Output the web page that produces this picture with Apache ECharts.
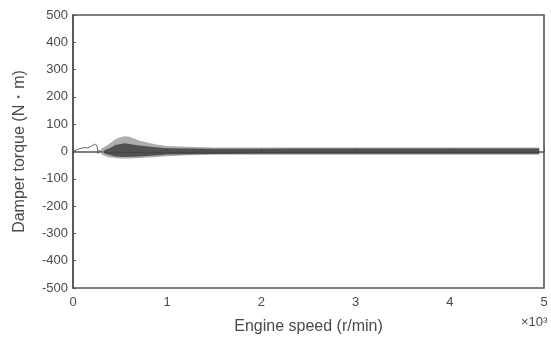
<!DOCTYPE html>
<html><head><meta charset="utf-8">
<script src="https://cdn.jsdelivr.net/npm/echarts@6/dist/echarts.min.js"></script>
<style>html,body{margin:0;padding:0;background:#fff}#c{width:551px;height:340px}</style>
</head><body><div id="c"></div>
<script>
// x in units of 10^3 r/min, y in N·m
const xTicks = [0, 1, 2, 3, 4, 5];
const yTicks = [-500, -400, -300, -200, -100, 0, 100, 200, 300, 400, 500];
const startX = [0, 0.05, 0.11, 0.16, 0.2, 0.23, 0.255, 0.265, 0.275, 0.29, 0.31];
const startY = [0, 8, 14, 13, 21, 27, 21, -8, 4, 2, 0];
const envX = [0.3, 0.35, 0.4, 0.45, 0.5, 0.55, 0.6, 0.65, 0.7, 0.8, 0.9, 1.0, 1.2, 1.5, 2.0, 3.0, 4.0, 4.95];
const envUpper = [10, 20, 32, 45, 52, 56, 54, 48, 40, 32, 25, 20, 17, 15, 15, 15, 15, 15];
const envLower = [-10, -18, -22, -24, -26, -26, -26, -25, -24, -22, -20, -17, -14, -12, -12, -12, -12, -12];
const coreX = [0.33, 0.4, 0.45, 0.55, 0.7, 0.9, 1.0, 1.5, 2.0, 2.3, 3.0, 4.0, 4.95];
const coreUpper = [5, 14, 24, 30, 22, 15, 12, 10, 10, 11, 11, 11, 11];
const coreLower = [-6, -14, -18, -20, -18, -14, -11, -9, -8, -8, -8, -8, -8];

const zip = (xs, ys) => xs.map((x, i) => [x, ys[i]]);
const chart = echarts.init(document.getElementById('c'));
const txt = {color: '#4a4a4a', fontFamily: 'Liberation Sans, Arial, sans-serif'};
chart.setOption({
  animation: false,
  grid: {left: 73, right: 7, top: 15, bottom: 51, show: true, borderColor: '#555', borderWidth: 1.6, backgroundColor: 'transparent'},
  xAxis: {
    type: 'value', min: xTicks[0], max: xTicks[xTicks.length - 1], interval: 1,
    name: 'Engine speed (r/min)', nameLocation: 'middle', nameGap: 31,
    nameTextStyle: Object.assign({fontSize: 16}, txt),
    axisLine: {show: true, lineStyle: {color: '#555', width: 1.6}},
    axisTick: {show: true, inside: true, length: 3, lineStyle: {color: '#555'}},
    axisLabel: Object.assign({fontSize: 13, margin: 8}, txt),
    splitLine: {show: false}
  },
  yAxis: {
    type: 'value', min: yTicks[0], max: yTicks[yTicks.length - 1], interval: 100,
    name: 'Damper torque (N・m)', nameLocation: 'middle', nameGap: 45,
    nameTextStyle: Object.assign({fontSize: 16}, txt),
    axisLine: {show: true, lineStyle: {color: '#555', width: 1.6}},
    axisTick: {show: true, inside: true, length: 3, lineStyle: {color: '#555'}},
    axisLabel: Object.assign({fontSize: 13, margin: 5}, txt),
    splitLine: {show: false}
  },
  graphic: [{type: 'text', left: 521, top: 316, style: {text: '×10³', fontSize: 13, fill: '#4a4a4a', fontFamily: txt.fontFamily}}],
  series: [
    {type: 'line', data: zip(envX, envUpper), showSymbol: false, lineStyle: {width: 0}, areaStyle: {color: '#8a8a8a'}, z: 1},
    {type: 'line', data: zip(envX, envLower), showSymbol: false, lineStyle: {width: 0}, areaStyle: {color: '#8a8a8a'}, z: 1},
    {type: 'line', data: zip(coreX, coreUpper), showSymbol: false, lineStyle: {width: 0}, areaStyle: {color: '#2a2a2a'}, z: 2},
    {type: 'line', data: zip(coreX, coreLower), showSymbol: false, lineStyle: {width: 0}, areaStyle: {color: '#2a2a2a'}, z: 2},
    {type: 'line', data: zip(startX, startY), showSymbol: false, lineStyle: {width: 1, color: '#666'}, z: 3}
  ]
});
</script></body></html>
